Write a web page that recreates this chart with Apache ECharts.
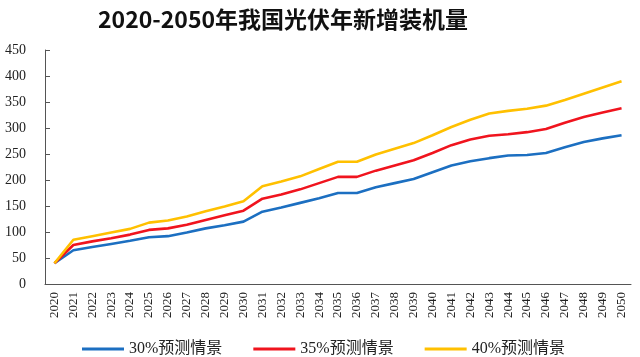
<!DOCTYPE html>
<html>
<head>
<meta charset="utf-8">
<script src="https://cdn.jsdelivr.net/npm/echarts@6/dist/echarts.min.js"></script>
<style>html,body{margin:0;padding:0;background:#fff}#c{width:640px;height:357px}</style>
</head>
<body>
<div id="c"></div>
<script>
const years = ['2020','2021','2022','2023','2024','2025','2026','2027','2028','2029','2030','2031','2032','2033','2034','2035','2036','2037','2038','2039','2040','2041','2042','2043','2044','2045','2046','2047','2048','2049','2050'];
const s30 = [40,65,71,77,83,90,92,99,107,113,120,139,147,156,165,175,175,186,194,202,215,228,236,242,247,248,252,263,273,280,286];
const s35 = [40,75,82,88,95,104,107,114,123,132,141,164,172,182,194,206,206,218,228,238,252,267,278,285,288,292,298,310,321,330,338];
const s40 = [40,85,92,99,106,118,122,130,140,149,159,188,197,207,221,235,235,249,260,271,286,302,316,328,333,337,343,354,366,378,390];
const names = ['30%预测情景','35%预测情景','40%预测情景'];
const yTicks = [0,50,100,150,200,250,300,350,400,450];

const chart = echarts.init(document.getElementById('c'), null, {renderer:'canvas'});
const serif = '"Liberation Serif","Times New Roman","Noto Sans CJK SC",serif';
const mk = (name, data, color) => ({
  name, type:'line', data, symbol:'none', smooth:false,
  lineStyle:{color, width:2.6}, itemStyle:{color}
});
chart.setOption({
  animation:false,
  title:{
    text:'2020-2050年我国光伏年新增装机量',
    left:93, top:3,
    textStyle:{fontFamily:'"Noto Sans CJK SC",sans-serif', fontWeight:'bold', fontSize:23, color:'#111'}
  },
  grid:{left:45, right:9, top:50, bottom:73, containLabel:false},
  legend:{
    left:77, top:336, icon:'rect', itemWidth:42, itemHeight:3, itemGap:31,
    textStyle:{fontFamily:serif, fontSize:16, color:'#222'},
    data:names
  },
  xAxis:{
    type:'category', data:years, boundaryGap:true,
    axisLine:{lineStyle:{color:'#555', width:1}},
    axisTick:{inside:true, length:5, lineStyle:{color:'#555'}},
    axisLabel:{rotate:90, margin:8, fontFamily:serif, fontSize:13, color:'#222', interval:0}
  },
  yAxis:{
    type:'value', min:yTicks[0], max:yTicks[yTicks.length-1], interval:50,
    splitLine:{show:false},
    axisLine:{show:true, lineStyle:{color:'#555', width:1}},
    axisTick:{show:true, inside:true, length:5, lineStyle:{color:'#555'}},
    axisLabel:{margin:19, fontFamily:serif, fontSize:14, color:'#222'}
  },
  series:[
    mk(names[0], s30, '#1c6fc1'),
    mk(names[1], s35, '#f0141e'),
    mk(names[2], s40, '#ffc000')
  ]
});
</script>
</body>
</html>
